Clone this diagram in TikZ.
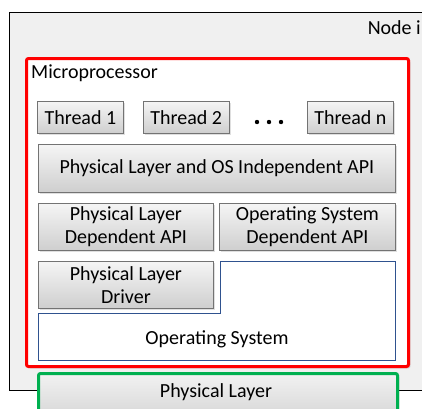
\documentclass[tikz,border=0pt]{standalone}
\usepackage{fontspec}
\setmainfont{Carlito}
\usetikzlibrary{positioning,shadows}
\definecolor{osblue}{RGB}{47,82,143}
\definecolor{phygreen}{RGB}{0,176,80}
\begin{document}
\begin{tikzpicture}[x=1pt,y=-1pt,font=\fontsize{20}{23}\selectfont,
layer/.style={draw=black!55,line width=.8pt,top color=black!4,bottom color=black!19,align=center,
  inner sep=1pt,anchor=north west,drop shadow={opacity=.25,shadow xshift=1.5pt,shadow yshift=-1.5pt}},
thread/.style={layer,minimum width=86pt,minimum height=32pt},
frame/.style={anchor=north west,inner sep=0pt}]
\useasboundingbox (0,0) rectangle (422,408);
\clip (0,0) rectangle (422,408);
\node[frame,draw=black,line width=.6pt,fill=black!6,minimum width=440pt,minimum height=378pt](nodei) at (9,12){};
\node[anchor=east,inner sep=0pt] (nodelbl) at (421,28){Node i};
\node[frame,draw=red,line width=3pt,rounded corners=2pt,fill=white,minimum width=382pt,minimum height=308pt,
  drop shadow={opacity=.2,shadow xshift=2pt,shadow yshift=-2pt}](mp) at (25,57){};
\node[anchor=west,inner sep=0pt] (mplbl) at (31,73){Microprocessor};
\node[thread](t1) at (37,101){Thread 1};
\node[thread,right=19pt of t1](t2){Thread 2};
\node[thread](tn) at (307,101){Thread n};
\foreach \x in {257,269,281}\fill (\x,122) circle (2.2pt);
\node[layer,minimum width=357pt,minimum height=48pt](indep) at (38,144){Physical Layer and OS Independent API};
\node[layer,minimum width=175pt,minimum height=47pt](phydep) at (38,203){Physical Layer\\Dependent API};
\node[layer,minimum width=176pt,minimum height=47pt](osdep) at (219,203){Operating System\\Dependent API};
\node[layer,minimum width=175pt,minimum height=47pt](driver) at (38,261){Physical Layer\\Driver};
\draw[osblue,line width=1pt,fill=white](220,261)--(395,261)--(395,360)--(38,360)--(38,313)--(220,313)--cycle;
\node (os) at (217,339){Operating System};
\node[frame,draw=phygreen,line width=3pt,rounded corners=2pt,top color=black!5,bottom color=black!20,
  minimum width=359pt,minimum height=60pt,drop shadow={opacity=.2,shadow xshift=2pt,shadow yshift=-2pt}](phy) at (37,372){};
\node (phylbl) at (216,392){Physical Layer};
\end{tikzpicture}
\end{document}
